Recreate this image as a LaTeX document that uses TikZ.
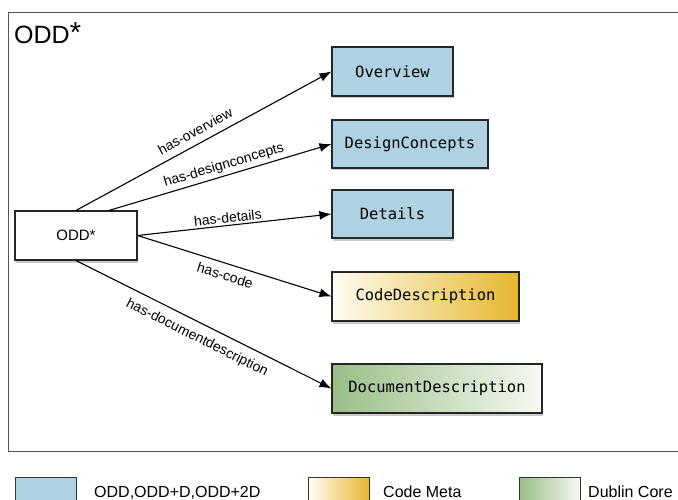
\documentclass[tikz,border=0pt]{standalone}
\usepackage{fontspec}
\setmainfont{Liberation Sans}
\newfontfamily\boxmono{DejaVu Sans Mono}
\usetikzlibrary{arrows.meta,shadows,calc}
\definecolor{odblue}{HTML}{AFD2E3}
\definecolor{cmgold}{HTML}{E6B62C}
\definecolor{cmlight}{HTML}{FFFDF3}
\definecolor{dcgreen}{HTML}{98BE86}
\definecolor{dclight}{HTML}{F6F9F3}
\definecolor{framegray}{HTML}{555555}
\tikzset{
  classbox/.style={draw=black!85, line width=1.1pt, inner sep=0pt,
    font=\boxmono\fontsize{15.5}{18}\selectfont,
    drop shadow={shadow xshift=1pt, shadow yshift=-2.5pt, opacity=0.35, fill=black!60}},
  bluebox/.style={classbox, fill=odblue},
  goldbox/.style={classbox, left color=cmlight, right color=cmgold},
  greenbox/.style={classbox, left color=dcgreen, right color=dclight},
  rootbox/.style={draw=black!85, line width=1.1pt, fill=white, inner sep=0pt,
    font=\fontsize{15}{18}\selectfont,
    drop shadow={shadow xshift=1pt, shadow yshift=-2.5pt, opacity=0.35, fill=black!60}},
  rel/.style={line width=1.1pt, -{Latex[length=12pt,width=9pt]}},
  rellabel/.style={font=\fontsize{14}{16}\selectfont, sloped, inner sep=1pt},
  legbox/.style={draw=black!80, line width=0.9pt, inner sep=0pt, minimum width=61pt, minimum height=34pt},
  legtext/.style={font=\fontsize{16}{18}\selectfont, anchor=base west, inner sep=0pt}
}
\begin{document}
\begin{tikzpicture}[x=1pt,y=-1pt]
\clip (0,0) rectangle (678,500);
\fill[white] (0,0) rectangle (678,500);
% frame
\draw[framegray, line width=1pt] (690,13) -- (8,13) -- (8,451) -- (690,451);
\node[anchor=base west, inner sep=0pt, font=\fontsize{25}{28}\selectfont] (title) at (14,44) {ODD\raisebox{1pt}{\fontsize{29}{30}\selectfont*}};

% nodes
\node[rootbox, minimum width=122pt, minimum height=49pt] (odd) at (76,235.5) {ODD*};
\node[bluebox, minimum width=121pt, minimum height=49pt] (ov) at (392.5,71.5) {Overview};
\node[bluebox, minimum width=156pt, minimum height=48pt] (dc) at (410,144) {DesignConcepts};
\node[bluebox, minimum width=121pt, minimum height=48pt] (det) at (392.5,214) {Details};
\node[goldbox, minimum width=187pt, minimum height=49pt] (code) at (425.5,296.5) {CodeDescription};
\node[greenbox, minimum width=210pt, minimum height=49pt] (doc) at (437,388.5) {DocumentDescription};

\coordinate (dcstart) at ($(odd.north)+(33,0)$);

% connectors
\draw[rel] (odd.north) -- node[rellabel, pos=0.49, above=6pt] {has-overview} (ov.west);
\draw[rel] (dcstart) -- node[rellabel, pos=0.53, above=2pt] {has-designconcepts} (dc.west);
\draw[rel] (odd.east) -- node[rellabel, pos=0.47, above=1pt] {has-details} (det.west);
\draw[rel] (odd.east) -- node[rellabel, pos=0.47, below=5pt] {has-code} (code.west);
\draw[rel] (odd.south) -- node[rellabel, pos=0.5, below=7pt] {has-documentdescription} (doc.west);

% legend
\node[legbox, fill=odblue] (lg1) at (45.5,494) {};
\node[legtext] (lt1) at (94,497) {ODD,ODD+D,ODD+2D};
\node[legbox, left color=cmlight, right color=cmgold] (lg2) at (339,494) {};
\node[legtext] (lt2) at (383,497) {Code Meta};
\node[legbox, left color=dcgreen, right color=dclight] (lg3) at (550,494) {};
\node[legtext] (lt3) at (588,497) {Dublin Core};
\end{tikzpicture}
\end{document}
